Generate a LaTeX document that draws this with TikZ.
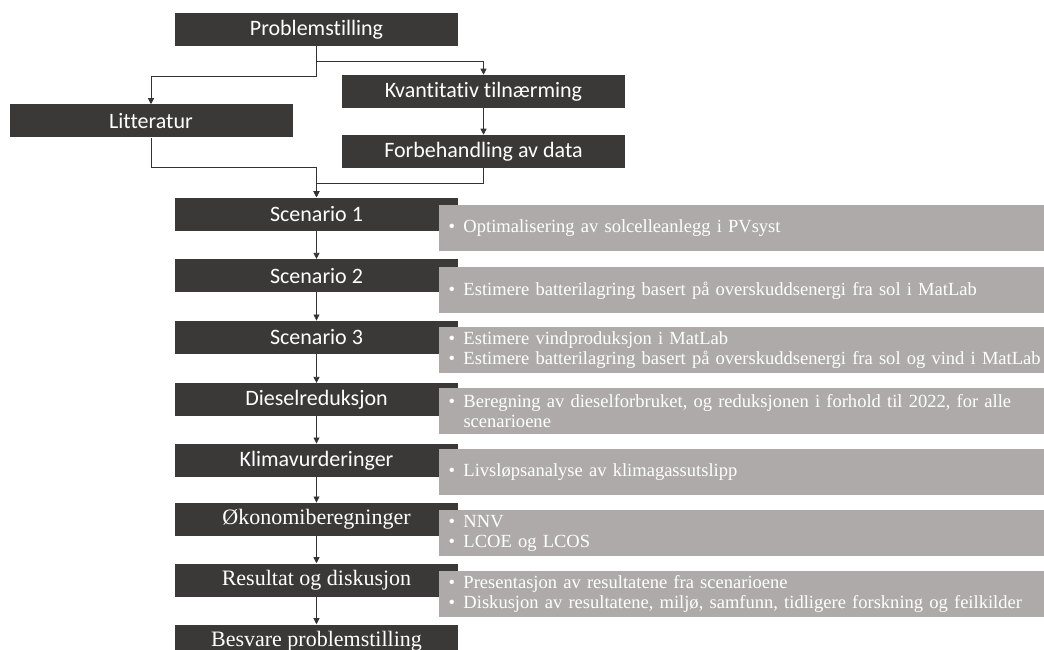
\documentclass[tikz,border=0pt]{standalone}
\usepackage{fontspec}
\setmainfont{Liberation Serif}[Ligatures=NoCommon]
\newfontfamily\calibri{Carlito}[Ligatures=NoCommon]
\usepackage{xcolor}
\usetikzlibrary{
    arrows.meta,
    positioning
}
\definecolor{boxdark}{HTML}{3B3838}
\definecolor{boxgrey}{HTML}{AEAAAA}
\setlength{\parindent}{0pt}
\newcommand{\pkt}{\makebox[11.2pt][l]{\textbullet}}
\newcommand{\innrykk}{\hspace*{11.2pt}}

\begin{document}
\begin{tikzpicture}[x=0.75pt, y=-0.75pt,
        steg/.style={fill=boxdark, text=white, inner sep=0pt, minimum width=212.25pt, minimum height=24.75pt,
            font=\calibri\fontsize{16.5pt}{19pt}\selectfont},
        stegserif/.style={steg, font=\rmfamily\fontsize{16.5pt}{19pt}\selectfont},
        info/.style={fill=boxgrey, text=white, anchor=west, inner xsep=7.5pt, inner ysep=0pt, minimum height=34.5pt,
            text width=465pt, align=left, font=\rmfamily\fontsize{13.9pt}{15pt}\selectfont},
        pil/.style={draw=black!80, line width=0.6pt, -{Triangle[length=4.5pt, width=4.5pt]}}]
    \useasboundingbox (0, 0) rectangle (1044, 649);
    \clip (0, 0) rectangle (1044, 649);
    \node[steg] (problem) at (316.5, 29.5) {Problemstilling};
    \node[steg] (kvant) at (483.5, 91.5) {Kvantitativ tilnærming};
    \node[steg] (litt) at (151, 121) {Litteratur};
    \node[steg] (forbeh) at (483.5, 151.5) {Forbehandling av data};
    \node[steg] (scen1) at (316.5, 214) {Scenario 1};
    \node[steg] (scen2) at (316.5, 275.7) {Scenario 2};
    \node[steg] (scen3) at (316.5, 337.3) {Scenario 3};
    \node[steg] (diesel) at (316.5, 399.7) {Dieselreduksjon};
    \node[steg] (klima) at (316.5, 460.3) {Klimavurderinger};
    \node[stegserif] (okonomi) at (316.5, 519.3) {Økonomiberegninger};
    \node[stegserif] (resultat) at (316.5, 580) {Resultat og diskusjon};
    \node[stegserif] (besvare) at (316.5, 641) {Besvare problemstilling};
    \node[info] (info1) at (438.3, 227.9) {\pkt Optimalisering av solcelleanlegg i PVsyst};
    \node[info] (info2) at (438.3, 290.3) {\pkt Estimere batterilagring basert på overskuddsenergi fra sol i MatLab};
    \node[info] (info3) at (438.3, 350.3) {\pkt Estimere vindproduksjon i MatLab\\
        \pkt Estimere batterilagring basert på overskuddsenergi fra sol og vind i MatLab};
    \node[info] (info4) at (438.3, 411.2) {\pkt Beregning av dieselforbruket, og reduksjonen i forhold til 2022, for alle\\
        \innrykk scenarioene};
    \node[info] (info5) at (438.3, 472.3) {\pkt Livsløpsanalyse av klimagassutslipp};
    \node[info] (info6) at (438.3, 533) {\pkt NNV\\ \pkt LCOE og LCOS};
    \node[info] (info7) at (438.3, 593.7) {\pkt Presentasjon av resultatene fra scenarioene\\
        \pkt Diskusjon av resultatene, miljø, samfunn, tidligere forskning og feilkilder};
    \draw[pil] (problem.south) -- ++(0, 15) -| (kvant.north);
    \draw[pil] (problem.south) -- ++(0, 30) -| (litt.north);
    \draw[pil] (kvant) -- (forbeh);
    \draw[pil] (litt.south) -- ++(0, 30) -| (scen1.north);
    \draw[pil] (forbeh.south) -- ++(0, 15) -| (scen1.north);
    \foreach \fra/\til in {scen1/scen2, scen2/scen3, scen3/diesel, diesel/klima, klima/okonomi, okonomi/resultat, resultat/besvare}
        \draw[pil] (\fra) -- (\til);
\end{tikzpicture}
\end{document}
